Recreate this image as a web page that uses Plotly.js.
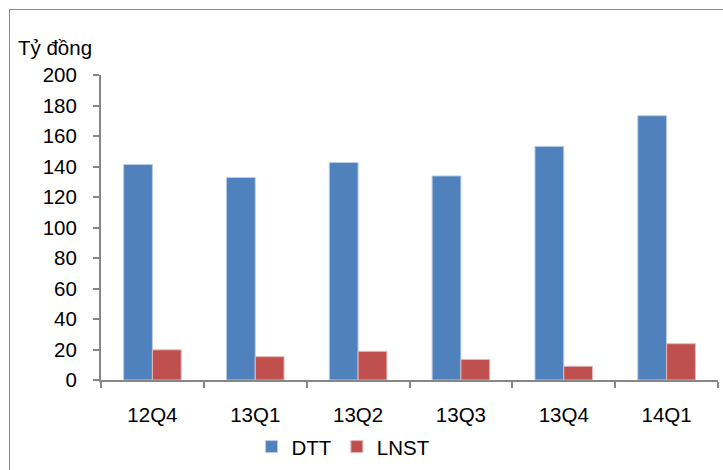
<!DOCTYPE html>
<html><head><meta charset="utf-8">
<script src="https://cdn.plot.ly/plotly-3.0.1.min.js"></script>
<style>
body{margin:0;padding:0;background:#fff;}
#wrap{position:relative;width:723px;height:470px;overflow:hidden;}
#chart{width:723px;height:470px;}
#frame{position:absolute;left:9px;top:9px;width:800px;height:600px;border-left:1px solid #8c8c8c;border-top:1px solid #8c8c8c;pointer-events:none;}
</style></head>
<body>
<div id="wrap"><div id="chart"></div><div id="frame"></div></div>
<script>
const categories = ["12Q4","13Q1","13Q2","13Q3","13Q4","14Q1"];
const dtt = [141.3, 132.8, 142.6, 133.8, 153.2, 173.3];
const lnst = [19.8, 15.3, 18.8, 13.5, 9.0, 23.8];
const yTicks = [0,20,40,60,80,100,120,140,160,180,200];
const fontFam = "Liberation Sans, Arial, sans-serif";

const traces = [
  {type:"bar", name:"DTT", x:categories, y:dtt,
   marker:{color:"#4F81BD", line:{color:"#b9cde5", width:1}}},
  {type:"bar", name:"LNST", x:categories, y:lnst,
   marker:{color:"#C0504D", line:{color:"#e6b9b8", width:1}}}
];

const layout = {
  width:723, height:470,
  margin:{l:101, r:5, t:75, b:89},
  paper_bgcolor:"#fff", plot_bgcolor:"#fff",
  font:{family:fontFam, size:20.5, color:"#000"},
  barmode:"group", bargap:0.44, bargroupgap:0,
  showlegend:true,
  legend:{orientation:"h", x:0.244, xanchor:"left", y:-0.215, yanchor:"middle",
          font:{size:20.5}, itemwidth:30, traceorder:"normal"},
  xaxis:{type:"category", showline:true, linecolor:"#868686", linewidth:2,
         ticks:"outside", ticklen:6, tickcolor:"#868686", tickwidth:2,
         tickson:"boundaries", showgrid:false, ticklabelstandoff:15,
         tickfont:{size:20.5}},
  yaxis:{range:[0,200], tickvals:yTicks, showline:true, linecolor:"#868686", linewidth:2,
         ticks:"outside", ticklen:6, tickcolor:"#868686", tickwidth:2,
         showgrid:false, zeroline:false, ticklabelstandoff:12, tickfont:{size:20.5}},
  annotations:[{text:"Tỷ đồng", xref:"paper", yref:"paper", x:-0.137, y:1.09,
                xanchor:"left", yanchor:"middle", showarrow:false, font:{size:20.5}}]
};
Plotly.newPlot("chart", traces, layout, {displayModeBar:false, staticPlot:true});
</script>
</body></html>
